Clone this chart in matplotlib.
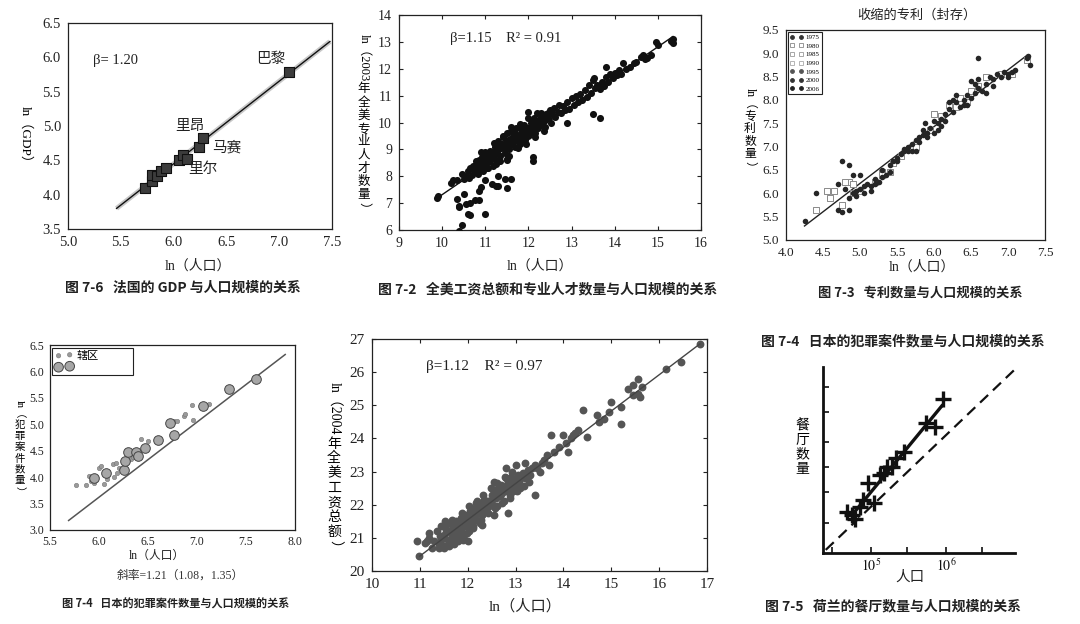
import matplotlib
matplotlib.use('Agg')
import matplotlib.pyplot as plt
from matplotlib.lines import Line2D
from matplotlib.ticker import FormatStrFormatter, FixedLocator, NullFormatter

# ---------------- data ----------------
# Fig 7-6 France GDP vs population
gdp_pop_ln = [5.73, 5.80, 5.80, 5.84, 5.88, 5.93, 6.05, 6.09, 6.13, 6.24, 6.28, 7.09]
gdp_ln = [4.10, 4.20, 4.28, 4.27, 4.35, 4.39, 4.50, 4.58, 4.52, 4.70, 4.83, 5.78]
gdp_fit_x = [5.46, 7.48]
gdp_fit_y = [3.80, 6.23]
city_names = ['巴黎', '里昂', '马赛', '里尔']
city_label_x = [6.92, 6.155, 6.50, 6.28]
city_label_y = [5.98, 5.00, 4.69, 4.38]
gdp_xticks = [5.0, 5.5, 6.0, 6.5, 7.0, 7.5]
gdp_yticks = [3.5, 4.0, 4.5, 5.0, 5.5, 6.0, 6.5]

# Fig 7-2 talent vs population
talent_pop_ln = [9.87, 9.90, 10.20, 10.35, 10.40, 10.40, 10.45, 10.40, 10.50, 10.55, 10.60, 10.65,
                 10.65, 10.75, 10.85, 10.85, 10.90, 11.00, 11.00, 11.15, 11.25, 11.30, 11.30, 11.45,
                 11.50, 11.60, 11.50, 11.50, 12.10, 12.10, 12.90, 13.50, 13.65, 13.80, 14.95, 15.35,
                 15.35, 15.30,
                 10.35, 10.45, 10.50, 10.55, 10.60, 10.62, 10.65, 10.70, 10.72, 10.75, 10.78, 10.80,
                 10.82, 10.85, 10.88, 10.90, 10.92, 10.95, 10.97, 11.00, 11.00, 11.02, 11.05, 11.07,
                 11.10, 11.12, 11.15, 11.17, 11.20, 11.22, 11.25, 11.28, 11.30, 11.32, 11.35, 11.38,
                 11.40, 11.42, 11.45, 11.48, 11.50, 11.52, 11.55, 11.58, 11.60, 11.62, 11.65, 11.68,
                 11.70, 11.72, 11.75, 11.78, 11.80, 11.82, 11.85, 11.88, 11.90, 11.92, 11.95, 11.98,
                 12.00, 12.00, 12.02, 12.05, 12.08, 12.10, 12.12, 12.15, 12.18, 12.20, 12.22, 12.25,
                 12.28, 12.30, 12.35, 12.38, 12.40, 12.45, 12.50, 12.52, 12.55, 12.60, 12.62, 12.68,
                 12.70, 12.75, 12.80, 12.85, 12.90, 12.95, 13.00, 13.05, 13.10, 13.15, 13.20, 13.25,
                 13.30, 13.35, 13.40, 13.45, 13.50, 13.52, 13.55, 13.60, 13.65, 13.70, 13.75, 13.80,
                 13.85, 13.90, 13.95, 14.00, 14.05, 14.10, 14.15, 14.20, 14.25, 14.35, 14.45, 14.50,
                 14.60, 14.65, 14.70, 14.75, 14.85, 15.00,
                 10.25, 10.95, 11.05, 11.25, 11.35, 11.55, 11.75, 11.95, 12.15, 12.35,
                 10.85, 10.95, 11.05, 11.15, 11.25, 11.35, 11.45, 11.55, 11.65, 11.75, 11.85, 11.95,
                 12.05, 12.15, 12.25, 12.35, 12.45, 11.10, 11.30, 11.50, 11.70, 11.90, 12.10, 12.30,
                 10.90, 11.20, 11.40, 11.60, 11.80, 12.00]
talent_ln = [7.20, 7.25, 7.75, 7.15, 6.85, 6.90, 6.20, 5.95, 7.35, 6.95, 6.60, 6.55,
             7.00, 7.10, 7.10, 7.45, 7.60, 6.60, 7.85, 7.70, 7.65, 7.65, 8.00, 7.90,
             7.55, 7.90, 8.65, 8.60, 8.70, 8.55, 10.00, 10.30, 10.15, 12.05, 13.00, 13.10,
             12.95, 13.05,
             7.85, 8.10, 7.90, 8.00, 8.20, 7.95, 8.30, 8.05, 8.40, 8.20, 8.55, 8.30,
             8.10, 8.60, 8.40, 8.25, 8.70, 8.50, 8.35, 8.90, 8.60, 8.45, 8.75, 8.30,
             8.55, 8.95, 8.70, 8.40, 8.80, 9.10, 8.60, 8.90, 9.30, 9.00, 8.75, 9.20,
             9.50, 9.05, 8.85, 9.35, 9.60, 9.15, 9.00, 9.40, 9.70, 9.25, 9.50, 9.10,
             9.45, 9.80, 9.30, 9.55, 9.20, 9.75, 9.40, 9.60, 9.90, 9.35, 9.70, 9.50,
             10.40, 9.80, 9.55, 10.00, 9.70, 9.90, 10.15, 9.60, 10.00, 10.35, 9.80, 10.10,
             9.90, 10.35, 10.05, 9.85, 10.30, 10.15, 10.45, 10.00, 10.30, 10.55, 10.20, 10.40,
             10.65, 10.35, 10.60, 10.45, 10.75, 10.50, 10.90, 10.65, 11.00, 10.75, 11.05, 10.85,
             11.20, 10.95, 11.40, 11.10, 11.60, 11.65, 11.30, 11.40, 11.25, 11.50, 11.35, 11.70,
             11.50, 11.80, 11.65, 11.85, 11.75, 11.95, 11.80, 12.20, 12.00, 12.05, 12.20, 12.25,
             12.45, 12.50, 12.35, 12.40, 12.50, 12.90,
             7.85, 8.20, 8.30, 8.45, 8.55, 8.75, 9.05, 9.20, 9.45, 9.70,
             8.45, 8.65, 8.55, 8.85, 8.95, 9.05, 9.15, 9.30, 9.35, 9.50, 9.55, 9.60,
             9.75, 9.85, 9.95, 10.20, 10.35, 8.75, 9.15, 9.25, 9.60, 9.80, 10.05, 10.20,
             8.90, 9.25, 9.45, 9.85, 9.95, 10.15]
talent_fit_x = [9.85, 15.35]
talent_fit_y = [7.15, 13.20]

# Fig 7-3 patents vs population
patent_years = ['1975', '1980', '1985', '1990', '1995', '2000', '2006']
patent_filled_x = [4.25, 4.40, 4.70, 4.75, 4.85, 4.90, 5.00, 4.70, 4.75, 4.85, 4.80, 6.60, 7.30,
                   4.85, 4.90, 4.95, 5.00, 5.05, 5.10, 5.15, 5.20, 5.25, 5.30, 5.35, 5.40, 5.45,
                   5.50, 5.55, 5.60, 5.65, 5.70, 5.75, 5.80, 5.85, 5.88, 5.90, 5.95, 6.00, 6.05,
                   6.10, 6.15, 6.20, 6.25, 6.30, 6.35, 6.40, 6.45, 6.50, 6.55, 6.60, 6.65, 6.70,
                   6.75, 6.80, 6.85, 6.95, 7.00, 7.05, 7.10, 7.25, 7.27, 6.20, 6.40, 6.55, 6.60,
                   5.50, 5.60, 5.70, 5.80, 6.00, 6.05, 5.75, 5.85, 6.30, 6.50, 6.70, 6.90, 5.20,
                   5.30, 5.05, 4.95, 6.15, 6.25, 6.45, 6.80, 7.00, 5.15, 5.40, 5.65, 5.90, 6.10]
patent_filled_y = [5.40, 6.00, 6.20, 6.70, 6.60, 6.40, 6.40, 5.65, 5.60, 5.65, 6.10, 8.90, 8.75,
                   5.90, 6.00, 5.95, 6.10, 6.00, 6.20, 6.15, 6.30, 6.25, 6.50, 6.40, 6.60, 6.70,
                   6.75, 6.85, 6.90, 7.00, 7.05, 6.90, 7.20, 7.35, 7.50, 7.30, 7.40, 7.55, 7.50,
                   7.60, 7.70, 7.80, 7.75, 7.95, 7.85, 8.00, 8.10, 8.05, 8.35, 8.45, 8.20, 8.35,
                   8.50, 8.30, 8.55, 8.60, 8.55, 8.60, 8.65, 8.90, 8.95, 7.95, 7.90, 8.15, 8.25,
                   6.70, 6.95, 6.90, 7.10, 7.30, 7.35, 7.15, 7.25, 8.10, 8.40, 8.15, 8.50, 6.20,
                   6.35, 6.15, 6.05, 7.55, 8.00, 7.90, 8.45, 8.50, 6.05, 6.45, 6.90, 7.20, 7.45]
patent_open_x = [4.40, 4.55, 4.60, 4.65, 4.85, 4.90, 4.80, 4.75, 5.30, 5.40, 4.90,
                 5.00, 5.20, 5.45, 5.70, 5.75, 5.95, 6.00, 6.10, 6.30, 6.35, 6.45, 6.60, 6.70,
                 6.90, 7.05, 7.25, 6.20, 5.55, 5.30, 6.50]
patent_open_y = [5.65, 6.05, 5.90, 6.05, 6.25, 6.20, 6.25, 5.75, 6.45, 6.45, 6.00,
                 6.05, 6.25, 6.65, 6.95, 7.00, 7.35, 7.70, 7.65, 7.85, 8.05, 7.95, 8.30, 8.50,
                 8.55, 8.55, 8.85, 7.90, 6.80, 6.40, 8.20]
patent_fit_x = [4.25, 7.25]
patent_fit_y = [5.30, 8.95]
patent_xticks = [4.0, 4.5, 5.0, 5.5, 6.0, 6.5, 7.0, 7.5]
patent_yticks = [5.0, 5.5, 6.0, 6.5, 7.0, 7.5, 8.0, 8.5, 9.0, 9.5]

# Fig 7-4 Japan crime vs population
crime_big_x = [5.95, 6.07, 6.25, 6.27, 6.30, 6.38, 6.40, 6.47, 6.60, 6.72, 6.77, 7.06, 7.33, 7.60]
crime_big_y = [3.98, 4.07, 4.13, 4.30, 4.48, 4.48, 4.40, 4.55, 4.70, 5.02, 4.80, 5.34, 5.67, 5.85]
crime_small_x = [5.77, 5.87, 5.90, 5.92, 5.95, 6.00, 6.02, 6.05, 6.08, 6.15, 6.14, 6.17, 6.18,
                 6.20, 6.33, 6.35, 6.43, 6.50, 6.77, 6.80, 6.87, 6.88, 6.95, 6.96, 7.12, 6.60]
crime_small_y = [3.85, 3.85, 4.03, 3.93, 3.88, 4.17, 4.22, 3.87, 3.97, 4.00, 4.25, 4.27, 4.07,
                 4.17, 4.35, 4.38, 4.72, 4.68, 5.07, 5.06, 5.15, 5.20, 5.37, 5.09, 5.39, 4.68]
crime_fit_x = [5.69, 7.90]
crime_fit_y = [3.18, 6.32]
crime_xticks = [5.5, 6.0, 6.5, 7.0, 7.5, 8.0]
crime_yticks = [3.0, 3.5, 4.0, 4.5, 5.0, 5.5, 6.0, 6.5]

# Fig: wages vs population
wage_pop_ln = [10.95, 10.98, 11.20, 11.15, 12.00, 12.30, 12.55, 12.55, 12.80, 12.85, 13.00, 13.20,
               13.40, 13.75, 14.00, 14.40, 14.50, 14.70, 15.00, 15.20, 15.20, 15.35, 15.45, 15.55,
               15.60, 15.65, 16.15, 16.45, 16.85, 15.45, 15.55, 14.85, 14.95, 14.75, 14.30, 14.25,
               14.15, 14.05, 13.90, 13.80, 13.60, 13.55, 13.50, 13.45, 13.65, 13.70, 14.10, 14.20,
               11.30, 11.35, 11.40, 11.42, 11.45, 11.50, 11.50, 11.55, 11.58, 11.60, 11.62, 11.65,
               11.68, 11.70, 11.72, 11.75, 11.78, 11.80, 11.82, 11.85, 11.87, 11.90, 11.92, 11.95,
               11.97, 12.00, 12.02, 12.05, 12.08, 12.10, 12.12, 12.15, 12.18, 12.20, 12.22, 12.25,
               12.28, 12.30, 12.35, 12.38, 12.40, 12.45, 12.50, 12.52, 12.55, 12.60, 12.62, 12.65,
               12.68, 12.70, 12.72, 12.75, 12.78, 12.80, 12.82, 12.85, 12.88, 12.90, 12.92, 12.95,
               12.98, 13.00, 13.05, 13.08, 13.10, 13.15, 13.20, 13.25, 13.30, 13.35, 13.40,
               11.10, 11.20, 11.25, 11.40, 11.50, 11.60, 11.70, 11.90, 11.80,
               11.45, 11.55, 11.65, 11.75, 11.85, 11.95, 12.05, 12.15, 12.25, 12.35, 12.45, 12.55,
               12.65, 12.75, 12.85, 12.95, 13.05, 13.15, 11.52, 11.68, 11.88, 12.02, 12.18, 12.32,
               12.48, 12.62, 12.78, 12.92, 11.62, 11.78, 11.98, 12.12, 12.28, 12.42, 12.58, 12.72,
               12.88, 13.02, 13.18, 13.28]
wage_ln = [20.90, 20.45, 21.15, 20.90, 20.90, 21.40, 21.70, 22.70, 23.10, 21.75, 23.20, 23.25,
           22.30, 24.10, 24.10, 24.85, 24.05, 24.70, 25.10, 24.95, 24.45, 25.50, 25.60, 25.80,
           25.25, 25.55, 26.10, 26.30, 26.85, 25.30, 25.35, 24.60, 24.80, 24.50, 24.25, 24.15,
           24.00, 23.85, 23.75, 23.60, 23.35, 23.25, 23.00, 23.10, 23.50, 23.20, 23.60, 24.10,
           20.90, 21.20, 20.80, 21.05, 21.35, 20.75, 21.10, 21.40, 20.95, 21.20, 20.85, 21.45,
           21.05, 21.30, 20.80, 21.50, 21.15, 21.40, 21.00, 21.60, 21.25, 21.50, 21.10, 21.70,
           21.35, 21.55, 21.20, 21.80, 21.45, 21.65, 21.30, 21.90, 21.55, 22.10, 21.75, 21.45,
           22.00, 21.70, 22.15, 21.85, 22.10, 21.95, 22.30, 22.00, 22.45, 22.20, 21.95, 22.50,
           22.25, 22.60, 22.35, 22.10, 22.55, 22.80, 22.40, 22.65, 22.30, 22.85, 22.55, 22.40,
           22.75, 22.60, 22.90, 22.70, 22.50, 22.95, 22.80, 23.05, 22.90, 23.10, 23.20,
           20.85, 21.00, 20.70, 20.70, 20.70, 20.75, 20.85, 20.95, 20.90,
           20.95, 21.25, 21.15, 21.25, 21.35, 21.45, 21.60, 21.70, 21.85, 21.95, 22.10, 22.20,
           22.35, 22.45, 22.55, 22.65, 22.75, 22.85, 21.50, 21.55, 21.75, 21.95, 22.05, 22.30,
           22.50, 22.65, 22.85, 23.00, 20.90, 21.00, 21.15, 21.35, 21.55, 21.75, 21.90, 22.05,
           22.20, 22.40, 22.55, 22.70]
wage_fit_x = [11.0, 16.85]
wage_fit_y = [20.45, 26.85]

# Fig 7-5 Netherlands restaurants vs population (log-log)
rest_pop = [48000, 56000, 61000, 71000, 78000, 91000, 110000, 132000, 149000, 163000,
            190000, 215000, 275000, 540000, 713000, 912000]
rest_count = [35, 32, 28, 41, 51, 86, 46, 110, 117, 140, 140, 185, 222, 540, 480, 1130]
rest_fit_pop = [56000, 880000]
rest_fit_count = [32, 910]
rest_ref_pop = [25000, 8000000]
rest_ref_count = [11, 2700]

# ---------------- drawing ----------------
W, H = 1080, 624
SERIF = ['Liberation Serif', 'Noto Sans CJK SC']
SANS = ['Noto Sans CJK SC', 'DejaVu Sans']
plt.rcParams['font.family'] = SERIF
plt.rcParams['mathtext.fontset'] = 'stix'
plt.rcParams['axes.unicode_minus'] = False

fig = plt.figure(figsize=(10.8, 6.24), dpi=100)
fig.patch.set_facecolor('white')
renderer = fig.canvas.get_renderer()


def add_ax(l, t, r, b):
    return fig.add_axes([l / W, 1 - b / H, (r - l) / W, (b - t) / H])


def put(x, y, s, **kw):
    return fig.text(x / W, 1 - y / H, s, **kw)


def vlabel(xc, yc, segments, size, family=SERIF, gap=2.0):
    items = []
    for s, rot in segments:
        if rot:
            t = fig.text(0, 0, s, rotation=270, ha='center', va='top', fontsize=size, family=family)
            h = t.get_window_extent(renderer).height
            items.append((t, h + gap, True))
        else:
            for ch in s:
                t = fig.text(0, 0, ch, ha='center', va='center', fontsize=size, family=family)
                items.append((t, size * 100 / 72 * 1.06, False))
    total = sum(h for _, h, _ in items)
    y = yc - total / 2
    for t, h, rot in items:
        if rot:
            t.set_position((xc / W, 1 - (y + gap / 2) / H))
        else:
            t.set_position((xc / W, 1 - (y + h / 2 + 1) / H))
        y += h


def style(ax, size, tick_len=0.0, all_sides=False, pad=4):
    ax.tick_params(direction='in', length=tick_len, labelsize=size, top=all_sides,
                   right=all_sides, width=0.8, pad=pad, colors='#222')
    for sp in ax.spines.values():
        sp.set_linewidth(0.9)
        sp.set_color('#222')


# ---- Panel 1 ----
ax1 = add_ax(68, 23, 332, 229)
ax1.plot(gdp_fit_x, gdp_fit_y, color='#c8c8c8', lw=3.5, solid_capstyle='butt')
ax1.plot(gdp_fit_x, gdp_fit_y, color='#111', lw=1.0)
ax1.scatter(gdp_pop_ln, gdp_ln, marker='s', s=44, c='#3c3c3c', edgecolors='#111',
            linewidths=0.8, zorder=3)
for name, x, y in zip(city_names, city_label_x, city_label_y):
    ax1.text(x, y, name, ha='center', va='center', fontsize=10.5, family=SANS, color='#222')
ax1.text(5.24, 5.95, 'β= 1.20', fontsize=10.5, va='center', color='#222')
ax1.set_xlim(5.0, 7.5)
ax1.set_ylim(3.5, 6.5)
ax1.set_xticks(gdp_xticks)
ax1.set_yticks(gdp_yticks)
ax1.xaxis.set_major_formatter(FormatStrFormatter('%.1f'))
ax1.yaxis.set_major_formatter(FormatStrFormatter('%.1f'))
style(ax1, 10.5, 0, pad=5)
vlabel(25, 138, [('ln（GDP）', True)], 9.5, gap=0)
put(198, 266, 'ln（人口）', ha='center', va='center', fontsize=10, color='#222')
put(183, 288, '图 7-6   法国的 GDP 与人口规模的关系', ha='center', va='center',
    fontsize=10, family=SANS, weight='bold', color='#222')

# ---- Panel 2 ----
ax2 = add_ax(399, 15, 701, 230)
ax2.scatter(talent_pop_ln, talent_ln, s=26, c='#111', linewidths=0, zorder=3)
ax2.plot(talent_fit_x, talent_fit_y, color='#111', lw=1.0, zorder=2)
ax2.text(10.18, 13.14, 'β=1.15    R² = 0.91', fontsize=10.5, va='center', color='#222')
ax2.set_xlim(9, 16)
ax2.set_ylim(6, 14)
ax2.set_xticks(range(9, 17))
ax2.set_yticks(range(6, 15))
style(ax2, 10, 3, all_sides=True, pad=5)
vlabel(364, 124, [('ln（2003', True), ('年全美专业人才数量', False), ('）', True)], 9)
put(540, 266, 'ln（人口）', ha='center', va='center', fontsize=10, color='#222')
put(548, 289, '图 7-2   全美工资总额和专业人才数量与人口规模的关系', ha='center', va='center',
    fontsize=10, family=SANS, weight='bold', color='#222')

# ---- Panel 3 ----
ax3 = add_ax(786, 30, 1045, 240)
ax3.plot(patent_fit_x, patent_fit_y, color='#222', lw=1.0, zorder=2)
ax3.scatter(patent_open_x, patent_open_y, marker='s', s=13, facecolors='white',
            edgecolors='#8a8a8a', linewidths=0.7, zorder=3)
ax3.scatter(patent_filled_x, patent_filled_y, marker='o', s=16, c='#262626', linewidths=0,
            zorder=4)
ax3.set_xlim(4.0, 7.5)
ax3.set_ylim(5.0, 9.5)
ax3.set_xticks(patent_xticks)
ax3.set_yticks(patent_yticks)
ax3.xaxis.set_major_formatter(FormatStrFormatter('%.1f'))
ax3.yaxis.set_major_formatter(FormatStrFormatter('%.1f'))
style(ax3, 9.5, 0, pad=5)
year_style = {'1975': ('o', '#333', '#333'), '1980': ('s', 'white', '#888'),
              '1985': ('s', 'white', '#999'), '1990': ('s', 'white', '#aaa'),
              '1995': ('o', '#555', '#555'), '2000': ('o', '#333', '#333'),
              '2006': ('o', '#222', '#222')}
handles = [Line2D([], [], ls='none', marker=year_style[y][0], mfc=year_style[y][1],
                  mec=year_style[y][2], ms=2.8, mew=0.6, label=y) for y in patent_years]
leg3 = ax3.legend(handles=handles, loc='upper left', numpoints=2, fontsize=5,
                  handlelength=1.8, handletextpad=0.4, borderpad=0.35, labelspacing=0.4,
                  borderaxespad=0.25, fancybox=False, framealpha=1, edgecolor='#222')
leg3.get_frame().set_linewidth(0.8)
put(917, 15, '收缩的专利（封存）', ha='center', va='center', fontsize=9.5, color='#222')
vlabel(750, 130, [('ln（', True), ('专利数量', False), ('）', True)], 8.5)
put(922, 267, 'ln（人口）', ha='center', va='center', fontsize=10, color='#222')
put(920, 292, '图 7-3   专利数量与人口规模的关系', ha='center', va='center',
    fontsize=9.5, family=SANS, weight='bold', color='#222')

# ---- Panel 4 ----
ax4 = add_ax(50, 345, 295, 530)
ax4.plot(crime_fit_x, crime_fit_y, color='#555', lw=1.1, zorder=2)
ax4.scatter(crime_small_x, crime_small_y, s=10, c='#9a9a9a', edgecolors='#777',
            linewidths=0.4, zorder=3, label='辖区')
ax4.scatter(crime_big_x, crime_big_y, s=48, c='#a6a6a6', edgecolors='#444',
            linewidths=0.7, zorder=4, label=' ')
ax4.set_xlim(5.5, 8.0)
ax4.set_ylim(3.0, 6.5)
ax4.set_xticks(crime_xticks)
ax4.set_yticks(crime_yticks)
ax4.xaxis.set_major_formatter(FormatStrFormatter('%.1f'))
ax4.yaxis.set_major_formatter(FormatStrFormatter('%.1f'))
style(ax4, 8.5, 0, pad=4)
leg4 = ax4.legend(loc='upper left', bbox_to_anchor=(0.01, 0.985, 0.33, 0.0), mode='expand',
                  scatterpoints=2, fontsize=8, handlelength=1.6, handletextpad=0.3,
                  borderpad=0.25, labelspacing=0.15, borderaxespad=0.0, fancybox=False,
                  framealpha=1, edgecolor='#222')
leg4.get_frame().set_linewidth(0.8)
vlabel(20, 448, [('ln（', True), ('犯罪案件数量', False), ('）', True)], 7.5)
put(157, 556, 'ln（人口）', ha='center', va='center', fontsize=8.5, color='#222')
put(180, 576, '斜率=1.21（1.08，1.35）', ha='center', va='center', fontsize=8.5, color='#333')
put(176, 604, '图 7-4   日本的犯罪案件数量与人口规模的关系', ha='center', va='center',
    fontsize=8, family=SANS, weight='bold', color='#222')

# ---- Panel 5 ----
ax5 = add_ax(372, 339, 707, 571)
ax5.scatter(wage_pop_ln, wage_ln, s=32, c='#555', linewidths=0, zorder=3)
ax5.plot(wage_fit_x, wage_fit_y, color='#444', lw=1.0, zorder=4)
ax5.text(11.13, 26.16, 'β=1.12    R² = 0.97', fontsize=11, va='center', color='#222')
ax5.set_xlim(10, 17)
ax5.set_ylim(20, 27)
ax5.set_xticks(range(10, 18))
ax5.set_yticks(range(20, 28))
style(ax5, 11, 3, all_sides=True, pad=5)
vlabel(334, 468, [('ln（2004', True), ('年全美工资总额', False), ('）', True)], 10)
put(525, 606, 'ln（人口）', ha='center', va='center', fontsize=11, color='#222')

# ---- Panel 6 ----
put(903, 341, '图 7-4   日本的犯罪案件数量与人口规模的关系', ha='center', va='center',
    fontsize=10, family=SANS, weight='bold', color='#222')
ax6 = add_ax(823, 367, 1015, 553)
ax6.set_xscale('log')
ax6.set_yscale('log')
ax6.plot(rest_ref_pop, rest_ref_count, color='#111', lw=1.6, ls=(0, (5, 3)))
ax6.plot(rest_fit_pop, rest_fit_count, color='#111', lw=2.4)
ax6.plot(rest_pop, rest_count, ls='none', marker='+', ms=11, mew=2.4, color='#111')
ax6.set_xlim(23000, 8300000)
ax6.set_ylim(10, 3000)
for s in ['top', 'right']:
    ax6.spines[s].set_visible(False)
for s in ['left', 'bottom']:
    ax6.spines[s].set_linewidth(2.0)
    ax6.spines[s].set_color('#111')
ax6.xaxis.set_major_locator(FixedLocator([1e5, 1e6]))
ax6.xaxis.set_minor_locator(FixedLocator([3e4, 3e5, 3e6]))
ax6.set_xticklabels(['$10^5$', '$10^6$'])
ax6.xaxis.set_minor_formatter(NullFormatter())
ax6.yaxis.set_major_locator(FixedLocator([25, 65, 140, 300, 750, 1600]))
ax6.yaxis.set_minor_locator(FixedLocator([]))
ax6.yaxis.set_major_formatter(NullFormatter())
ax6.tick_params(axis='both', which='both', direction='in', length=4, width=1.2,
                labelsize=10, pad=3, colors='#111')
vlabel(802, 446, [('餐厅数量', False)], 10, family=SANS)
put(910, 577, '人口', ha='center', va='center', fontsize=10.5, family=SANS, color='#222')
put(893, 606, '图 7-5   荷兰的餐厅数量与人口规模的关系', ha='center', va='center',
    fontsize=10, family=SANS, weight='bold', color='#222')

fig.savefig('out.png', dpi=100, facecolor='white')
